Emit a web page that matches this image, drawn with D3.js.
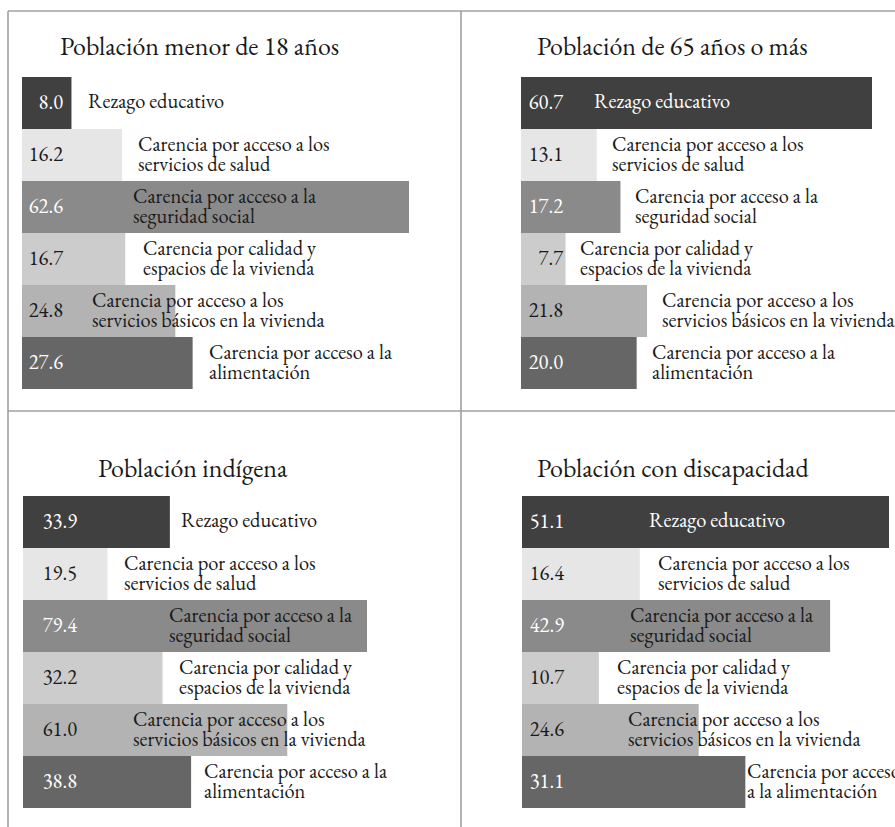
<!DOCTYPE html>
<html lang="es">
<head>
<meta charset="utf-8">
<script src="https://cdn.jsdelivr.net/npm/d3@7"></script>
<style>
  html, body { margin: 0; padding: 0; background: #fff; }
  svg { display: block; }
</style>
</head>
<body>
<script>
// Carencias sociales por grupo de población (porcentajes)
const categories = [
  "Rezago educativo",
  "Carencia por acceso a los servicios de salud",
  "Carencia por acceso a la seguridad social",
  "Carencia por calidad y espacios de la vivienda",
  "Carencia por acceso a los servicios básicos en la vivienda",
  "Carencia por acceso a la alimentación"
];
const groups = [
  "Población menor de 18 años",
  "Población de 65 años o más",
  "Población indígena",
  "Población con discapacidad"
];
const menores18     = [8.0, 16.2, 62.6, 16.7, 24.8, 27.6];
const mayores65     = [60.7, 13.1, 17.2, 7.7, 21.8, 20.0];
const indigena      = [33.9, 19.5, 79.4, 32.2, 61.0, 38.8];
const discapacidad  = [51.1, 16.4, 42.9, 10.7, 24.6, 31.1];
const seriesValues = [menores18, mayores65, indigena, discapacidad];

// How each category name wraps onto two lines
const defaultLines = [
  ["Rezago educativo"],
  ["Carencia por acceso a los", "servicios de salud"],
  ["Carencia por acceso a la", "seguridad social"],
  ["Carencia por calidad y", "espacios de la vivienda"],
  ["Carencia por acceso a los", "servicios básicos en la vivienda"],
  ["Carencia por acceso a la", "alimentación"]
];
const discapacidadLines = defaultLines.slice(0, 5).concat([["Carencia por acceso", "a la alimentación"]]);

// Visual styling
const FONT = "'EB Garamond', 'Liberation Serif', serif";
const barColors   = ["#404040", "#e6e6e6", "#8a8a8a", "#cccccc", "#b3b3b3", "#666666"];
const valueColors = ["#ffffff", "#1a1a1a", "#ffffff", "#1a1a1a", "#1a1a1a", "#ffffff"];
const textDark = "#1a1a1a";

const W = 895, H = 827;
const svg = d3.select("body").append("svg")
  .attr("width", W).attr("height", H)
  .attr("font-family", FONT);

// Panel layout: title, bar area and per-row label offsets
const panels = [
  { titleX: 60,  titleY: 55,  barX: 22,  barY: 77,  maxW: 387, valEnd: 41, labelDx: [66, 116, 111, 121, 70, 187], lines: defaultLines },
  { titleX: 537, titleY: 55,  barX: 521, barY: 77,  maxW: 351, valEnd: 42, labelDx: [73, 91, 114, 59, 141, 131], lines: defaultLines },
  { titleX: 98,  titleY: 477, barX: 23,  barY: 496, maxW: 344, valEnd: 54, labelDx: [158, 101, 146, 156, 110, 181], lines: defaultLines },
  { titleX: 537, titleY: 477, barX: 522, barY: 496, maxW: 367, valEnd: 42, labelDx: [127, 136, 108, 95, 106, 225], lines: discapacidadLines }
];
const rowH = 52;

// Frame lines separating the four panels
const gl = svg.append("g").attr("stroke", "#a0a0a0").attr("stroke-width", 1.6);
gl.append("line").attr("x1", 8).attr("x2", W).attr("y1", 11).attr("y2", 11);
gl.append("line").attr("x1", 8).attr("x2", W).attr("y1", 411).attr("y2", 411);
gl.append("line").attr("x1", 8).attr("x2", 8).attr("y1", 11).attr("y2", H);
gl.append("line").attr("x1", 461).attr("x2", 461).attr("y1", 11).attr("y2", H);

panels.forEach((p, i) => {
  const values = seriesValues[i];
  const g = svg.append("g");

  const x = d3.scaleLinear()
    .domain([0, d3.max(values)])
    .range([p.barX, p.barX + p.maxW]);
  const y = d3.scaleBand()
    .domain(d3.range(categories.length))
    .range([p.barY, p.barY + rowH * categories.length])
    .padding(0);

  g.append("text")
    .attr("x", p.titleX).attr("y", p.titleY)
    .attr("font-size", 26).attr("fill", textDark)
    .text(groups[i]);

  const rows = g.selectAll("g.row")
    .data(values.map((v, k) => ({ v, k, name: categories[k] })))
    .join("g").attr("class", "row");

  rows.append("rect")
    .attr("x", x(0))
    .attr("y", d => y(d.k))
    .attr("width", d => x(d.v) - x(0))
    .attr("height", y.bandwidth())
    .attr("fill", d => barColors[d.k]);

  rows.append("text")
    .attr("x", p.barX + p.valEnd)
    .attr("y", d => y(d.k) + y.bandwidth() / 2 + 6)
    .attr("text-anchor", "end")
    .attr("font-size", 20.5)
    .attr("fill", d => valueColors[d.k])
    .text(d => d3.format(".1f")(d.v));

  rows.each(function(d) {
    const lines = p.lines[d.k];
    const cy = y(d.k) + y.bandwidth() / 2;
    const lx = p.barX + p.labelDx[d.k];
    // a single-line label sitting on the darkest bar is set in white
    const onDark = d.k === 0 && lx < x(d.v);
    const t = d3.select(this).append("text")
      .attr("x", lx)
      .attr("font-size", 20.4)
      .attr("fill", onDark ? "#ffffff" : textDark);
    if (lines.length === 1) {
      t.attr("y", cy + 5).text(lines[0]);
    } else {
      lines.forEach((ln, j) => {
        t.append("tspan")
          .attr("x", lx)
          .attr("y", cy - 4 + j * 20)
          .text(ln);
      });
    }
  });
});
</script>
</body>
</html>
